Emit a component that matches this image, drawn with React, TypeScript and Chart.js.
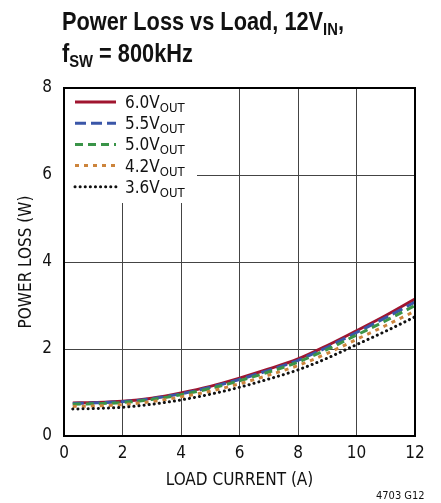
import React, { useEffect, useRef } from "react";
import { Chart, registerables } from "chart.js";

Chart.register(...registerables);

const loadCurrent = [0.3, 1, 2, 3, 4, 5, 6, 7, 8, 9, 10, 11, 12];
const loss60 = [0.76, 0.77, 0.8, 0.87, 0.99, 1.14, 1.33, 1.54, 1.77, 2.08, 2.42, 2.77, 3.15];
const loss55 = [0.75, 0.76, 0.79, 0.86, 0.97, 1.12, 1.3, 1.51, 1.74, 2.04, 2.38, 2.72, 3.08];
const loss50 = [0.73, 0.74, 0.77, 0.84, 0.95, 1.09, 1.27, 1.47, 1.7, 1.99, 2.32, 2.65, 3.0];
const loss42 = [0.68, 0.69, 0.72, 0.79, 0.9, 1.03, 1.2, 1.4, 1.62, 1.9, 2.22, 2.54, 2.87];
const loss36 = [0.62, 0.63, 0.66, 0.73, 0.83, 0.96, 1.12, 1.31, 1.52, 1.79, 2.1, 2.41, 2.74];
const seriesNames = ["6.0V", "5.5V", "5.0V", "4.2V", "3.6V"];
const xTicks = [0, 2, 4, 6, 8, 10, 12];
const yTicks = [0, 2, 4, 6, 8];

const FONT = "'DejaVu Sans Condensed', 'Roboto', sans-serif";
const TITLE_FONT = "'Liberation Sans', Arial, sans-serif";

const styles = [
  { color: "#a0152f", dash: [] as number[], width: 3, cap: "butt" as CanvasLineCap },
  { color: "#3a56a8", dash: [11, 5], width: 3, cap: "butt" as CanvasLineCap },
  { color: "#3a9448", dash: [8, 5], width: 3, cap: "butt" as CanvasLineCap },
  { color: "#cc843c", dash: [4, 5], width: 3, cap: "butt" as CanvasLineCap },
  { color: "#111111", dash: [0.1, 5], width: 3, cap: "round" as CanvasLineCap },
];

export default function App() {
  const ref = useRef<HTMLCanvasElement | null>(null);
  useEffect(() => {
    if (!ref.current) return;
    const allData = [loss60, loss55, loss50, loss42, loss36];
    const datasets = allData.map((d, i) => ({
      label: seriesNames[i] + "OUT",
      data: d.map((y, j) => ({ x: loadCurrent[j], y })),
      borderColor: styles[i].color,
      borderDash: styles[i].dash,
      borderWidth: styles[i].width,
      borderCapStyle: styles[i].cap,
      pointRadius: 0,
      tension: 0.4,
      cubicInterpolationMode: "monotone" as const,
      fill: false,
    }));
    datasets.reverse();

    const framePlugin = {
      id: "frame",
      afterDatasetsDraw(chart: any) {
        const { ctx, chartArea: a } = chart;
        ctx.save();
        const bx = a.left + 1, by = a.top + 1, bw = 132, bh = 114;
        ctx.fillStyle = "#fff";
        ctx.fillRect(bx, by, bw, bh);
        seriesNames.forEach((n, i) => {
          const y = a.top + 14 + i * 21.2;
          const s = styles[i];
          ctx.beginPath();
          ctx.strokeStyle = s.color;
          ctx.lineWidth = s.width;
          ctx.lineCap = s.cap;
          ctx.setLineDash(s.dash);
          ctx.moveTo(a.left + 11, y);
          ctx.lineTo(a.left + 52, y);
          ctx.stroke();
          ctx.setLineDash([]);
          ctx.fillStyle = "#111";
          ctx.font = `17px ${FONT}`;
          ctx.textBaseline = "alphabetic";
          ctx.textAlign = "left";
          const tx = a.left + 61;
          ctx.fillText(n, tx, y + 6);
          const w = ctx.measureText(n).width;
          ctx.font = `13px ${FONT}`;
          ctx.fillText("OUT", tx + w, y + 10);
        });
        ctx.strokeStyle = "#000";
        ctx.lineWidth = 2;
        ctx.setLineDash([]);
        ctx.strokeRect(a.left, a.top, a.right - a.left, a.bottom - a.top);
        ctx.restore();
      },
    };

    const chart = new Chart(ref.current, {
      type: "line",
      data: { datasets },
      options: {
        animation: false,
        responsive: false,
        maintainAspectRatio: false,
        layout: { padding: { top: 88, right: 26, left: 0, bottom: 0 } },
        plugins: { legend: { display: false }, tooltip: { enabled: false } },
        scales: {
          x: {
            type: "linear",
            min: 0,
            max: 12,
            afterFit: (s: any) => { s.height = 67; },
            afterBuildTicks: (s: any) => { s.ticks = xTicks.map((v) => ({ value: v })); },
            grid: { color: "#444", lineWidth: 1, drawTicks: false },
            border: { display: false },
            ticks: { color: "#111", padding: 7, font: { family: FONT, size: 17 }, maxRotation: 0 },
            title: { display: true, text: "LOAD CURRENT (A)", color: "#111", font: { family: FONT, size: 17 }, padding: { top: 0, bottom: 12 } },
          },
          y: {
            type: "linear",
            min: 0,
            max: 8,
            afterFit: (s: any) => { s.width = 64; },
            afterBuildTicks: (s: any) => { s.ticks = yTicks.map((v) => ({ value: v })); },
            grid: { color: "#444", lineWidth: 1, drawTicks: false },
            border: { display: false },
            ticks: { color: "#111", padding: 12, font: { family: FONT, size: 17 } },
            title: { display: true, text: "POWER LOSS (W)", color: "#111", font: { family: FONT, size: 17 }, padding: { top: 16, bottom: 0 } },
          },
        },
      },
      plugins: [framePlugin],
    });
    return () => chart.destroy();
  }, []);

  const subStyle: React.CSSProperties = { fontSize: 17, position: "relative", top: 5, verticalAlign: "baseline" };
  return (
    <div style={{ position: "fixed", left: 0, top: 0, width: 441, height: 503, background: "#fff" }}>
      <canvas ref={ref} width={441} height={503} style={{ position: "absolute", left: 0, top: 0, width: 441, height: 503 }} />
      <div style={{ position: "absolute", left: 62, top: 7, fontFamily: TITLE_FONT, fontWeight: "bold", fontSize: 25, lineHeight: "29px", color: "#111", transform: "scaleX(0.87)", transformOrigin: "0 0", whiteSpace: "nowrap" }}>
        <div>Power Loss vs Load, 12V<span style={subStyle}>IN</span>,</div>
        <div>f<span style={subStyle}>SW</span> = 800kHz</div>
      </div>
      <div style={{ position: "absolute", left: 376, top: 489, fontFamily: FONT, fontSize: 11, color: "#111" }}>4703 G12</div>
    </div>
  );
}
